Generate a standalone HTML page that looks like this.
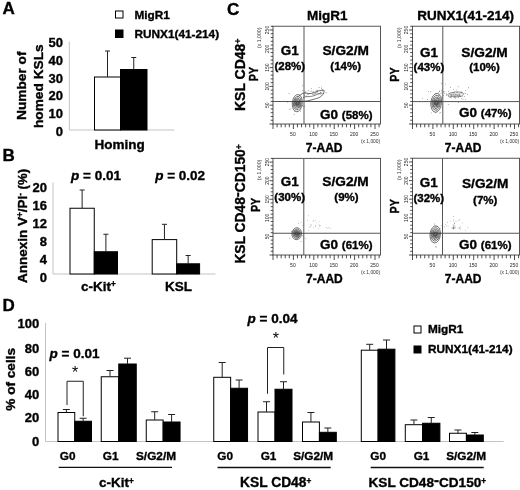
<!DOCTYPE html>
<html><head><meta charset="utf-8"><title>Figure</title>
<style>
html,body{margin:0;padding:0;background:#fff;}
svg{display:block;filter:blur(0.4px);font-family:"Liberation Sans",sans-serif;font-weight:bold;fill:#000;}
text{stroke:#000;stroke-width:0.35px;}
text.t{stroke:none;}
</style></head><body>
<svg width="520" height="490" viewBox="0 0 520 490">
<rect x="0" y="0" width="520" height="490" fill="#fff"/>
<text x="2.5" y="14.3" font-size="17" text-anchor="start">A</text>
<rect x="115.5" y="11" width="7.5" height="7" fill="#fff" stroke="#000" stroke-width="1"/>
<rect x="115.5" y="30" width="7.5" height="7.5" fill="#000" stroke="#000" stroke-width="1"/>
<text x="134.5" y="18.75" font-size="11.8" text-anchor="start">MigR1</text>
<text x="134.5" y="38" font-size="11.8" text-anchor="start">RUNX1(41-214)</text>
<path d="M69.3 41.5V130H174.5" stroke="#c4c4c4" stroke-width="1" fill="none"/>
<text x="63" y="47.3" font-size="13" text-anchor="end">50</text>
<text x="63" y="65.0" font-size="13" text-anchor="end">40</text>
<text x="63" y="82.69999999999999" font-size="13" text-anchor="end">30</text>
<text x="63" y="100.39999999999999" font-size="13" text-anchor="end">20</text>
<text x="63" y="118.1" font-size="13" text-anchor="end">10</text>
<text x="63" y="135.8" font-size="13" text-anchor="end">0</text>
<rect x="94.5" y="77" width="26.0" height="53" fill="#fff" stroke="#000" stroke-width="1"/>
<path d="M107.5 77V51M105.0 51H110.0" stroke="#222" stroke-width="1" fill="none"/>
<rect x="120.5" y="69.5" width="26.5" height="60.5" fill="#000" stroke="#000" stroke-width="1"/>
<path d="M133.75 69.5V57.5M131.25 57.5H136.25" stroke="#222" stroke-width="1" fill="none"/>
<text x="26.3" y="85.7" font-size="13.7" text-anchor="middle" transform="rotate(-90 26.3 85.7)">Number of</text>
<text x="43" y="86.2" font-size="13.7" text-anchor="middle" transform="rotate(-90 43 86.2)">homed KSLs</text>
<text x="119.7" y="149" font-size="13.5" text-anchor="middle">Homing</text>
<text x="2.5" y="161.3" font-size="17" text-anchor="start">B</text>
<path d="M53 182.5V274H215.5" stroke="#c4c4c4" stroke-width="1" fill="none"/>
<text x="47" y="191.7" font-size="13" text-anchor="end">20</text>
<text x="47" y="209.7" font-size="13" text-anchor="end">16</text>
<text x="47" y="227.7" font-size="13" text-anchor="end">12</text>
<text x="47" y="245.7" font-size="13" text-anchor="end">8</text>
<text x="47" y="263.7" font-size="13" text-anchor="end">4</text>
<text x="47" y="281.7" font-size="13" text-anchor="end">0</text>
<rect x="70" y="208.25" width="24.25" height="65.75" fill="#fff" stroke="#000" stroke-width="1"/>
<path d="M82.125 208.25V190M79.625 190H84.625" stroke="#222" stroke-width="1" fill="none"/>
<rect x="94.25" y="251.75" width="23.25" height="22.25" fill="#000" stroke="#000" stroke-width="1"/>
<path d="M105.875 251.75V234.25M103.375 234.25H108.375" stroke="#222" stroke-width="1" fill="none"/>
<rect x="152.2" y="239.6" width="24.5" height="34.400000000000006" fill="#fff" stroke="#000" stroke-width="1"/>
<path d="M164.45 239.6V224.3M161.95 224.3H166.95" stroke="#222" stroke-width="1" fill="none"/>
<rect x="176.7" y="263.8" width="22.900000000000006" height="10.199999999999989" fill="#000" stroke="#000" stroke-width="1"/>
<path d="M188.14999999999998 263.8V255.5M185.64999999999998 255.5H190.64999999999998" stroke="#222" stroke-width="1" fill="none"/>
<text x="71" y="180" font-size="13.5" text-anchor="start"><tspan font-style="italic">p</tspan> = 0.01</text>
<text x="155.2" y="180" font-size="13.5" text-anchor="start"><tspan font-style="italic">p</tspan> = 0.02</text>
<text x="81" y="290.5" font-size="13.5" text-anchor="start">c-Kit<tspan dy="-3.2" font-size="8.2">+</tspan><tspan dy="3.2" font-size="1">&#8203;</tspan></text>
<text x="165" y="291.3" font-size="13.5" text-anchor="start">KSL</text>
<text x="26.5" y="283" font-size="13.5" text-anchor="start" transform="rotate(-90 26.5 283)">Annexin V<tspan dy="-3.2" font-size="8.2">+</tspan><tspan dy="3.2" font-size="1">&#8203;</tspan>/PI<tspan dy="-3.2" font-size="8.2">-</tspan><tspan dy="3.2" font-size="1">&#8203;</tspan><tspan dx="3.5" font-size="13.2">(%)</tspan></text>
<text x="227" y="14.5" font-size="17" text-anchor="start">C</text>
<text x="327.3" y="19.7" font-size="13.5" text-anchor="middle">MigR1</text>
<text x="465.7" y="19.7" font-size="13.5" text-anchor="middle">RUNX1(41-214)</text>
<rect x="273" y="26.25" width="107.5" height="97.75" fill="#fff" stroke="#555" stroke-width="1"/>
<path d="M304 26.25V124.0M273 101.5H380.5" stroke="#555" stroke-width="1" fill="none"/>
<path d="M273.00 124.0v5M277.08 124.0v3.3M281.16 124.0v3.3M285.24 124.0v3.3M289.32 124.0v3.3M293.40 124.0v5M297.48 124.0v3.3M301.56 124.0v3.3M305.64 124.0v3.3M309.72 124.0v3.3M313.80 124.0v5M317.88 124.0v3.3M321.96 124.0v3.3M326.04 124.0v3.3M330.12 124.0v3.3M334.20 124.0v5M338.28 124.0v3.3M342.36 124.0v3.3M346.44 124.0v3.3M350.52 124.0v3.3M354.60 124.0v5M358.68 124.0v3.3M362.76 124.0v3.3M366.84 124.0v3.3M370.92 124.0v3.3M375.00 124.0v5M379.08 124.0v3.3M273 124.00h-3.5M273 120.24h-2.3M273 116.48h-2.3M273 112.72h-2.3M273 108.96h-2.3M273 105.20h-3.5M273 101.44h-2.3M273 97.68h-2.3M273 93.92h-2.3M273 90.16h-2.3M273 86.40h-3.5M273 82.64h-2.3M273 78.88h-2.3M273 75.12h-2.3M273 71.37h-2.3M273 67.61h-3.5M273 63.85h-2.3M273 60.09h-2.3M273 56.33h-2.3M273 52.57h-2.3M273 48.81h-3.5M273 45.05h-2.3M273 41.29h-2.3M273 37.53h-2.3M273 33.77h-2.3M273 30.01h-3.5M273 26.25h-2.3" stroke="#222" stroke-width="0.8" fill="none"/>
<text x="292.9" y="136.0" font-size="5" text-anchor="middle" class="t" font-weight="normal" fill="#222">50</text>
<text x="268.8" y="105.2" font-size="5" text-anchor="middle" transform="rotate(-90 268.8 105.2)" class="t" font-weight="normal" fill="#222">50</text>
<text x="313.3" y="136.0" font-size="5" text-anchor="middle" class="t" font-weight="normal" fill="#222">100</text>
<text x="268.8" y="86.4" font-size="5" text-anchor="middle" transform="rotate(-90 268.8 86.4)" class="t" font-weight="normal" fill="#222">100</text>
<text x="333.7" y="136.0" font-size="5" text-anchor="middle" class="t" font-weight="normal" fill="#222">150</text>
<text x="268.8" y="67.61" font-size="5" text-anchor="middle" transform="rotate(-90 268.8 67.61)" class="t" font-weight="normal" fill="#222">150</text>
<text x="354.1" y="136.0" font-size="5" text-anchor="middle" class="t" font-weight="normal" fill="#222">200</text>
<text x="268.8" y="48.81" font-size="5" text-anchor="middle" transform="rotate(-90 268.8 48.81)" class="t" font-weight="normal" fill="#222">200</text>
<text x="374.5" y="136.0" font-size="5" text-anchor="middle" class="t" font-weight="normal" fill="#222">250</text>
<text x="268.8" y="30.01" font-size="5" text-anchor="middle" transform="rotate(-90 268.8 30.01)" class="t" font-weight="normal" fill="#222">250</text>
<text x="380.2" y="143.0" font-size="4.9" text-anchor="end" class="t" font-weight="normal" fill="#333">(x 1,000)</text>
<text x="261.3" y="37.75" font-size="5.2" text-anchor="middle" transform="rotate(-90 261.3 37.75)" class="t" font-weight="normal" fill="#333">(x 1,000)</text>
<text x="289.8" y="55.05" font-size="13.5" text-anchor="middle">G1</text>
<text x="289.8" y="69.55" font-size="11.5" text-anchor="middle">(28%)</text>
<text x="345.7" y="55.05" font-size="13.7" text-anchor="middle">S/G2/M</text>
<text x="345.7" y="69.55" font-size="11.5" text-anchor="middle">(14%)</text>
<text x="372.5" y="118.5" font-size="13.5" text-anchor="end">G0 <tspan font-size="11.5">(58%)</tspan></text>
<g transform="rotate(6 297.3 103.1)" fill="none" stroke="#222" stroke-width="0.6">
<ellipse cx="297.3" cy="103.1" rx="5.00" ry="8.60"/>
<ellipse cx="297.3" cy="103.1" rx="3.90" ry="6.71"/>
<ellipse cx="297.3" cy="103.1" rx="3.00" ry="5.16"/>
<ellipse cx="297.3" cy="103.1" rx="2.25" ry="3.87"/>
<ellipse cx="297.3" cy="103.1" rx="1.60" ry="2.75"/>
<ellipse cx="297.3" cy="103.1" rx="1.00" ry="1.72"/>
<ellipse cx="297.3" cy="103.1" rx="1.50" ry="2.58" fill="#444" stroke="none" opacity="0.7"/>
</g>
<g fill="#555"><circle cx="296.2" cy="107.1" r="0.45"/><circle cx="296.4" cy="102.1" r="0.45"/><circle cx="292.8" cy="102.7" r="0.45"/><circle cx="303.1" cy="106.5" r="0.45"/><circle cx="302.7" cy="105.5" r="0.45"/><circle cx="299.5" cy="105.1" r="0.45"/><circle cx="289.2" cy="109.1" r="0.45"/><circle cx="300.0" cy="107.0" r="0.45"/><circle cx="289.0" cy="93.5" r="0.45"/><circle cx="293.1" cy="101.2" r="0.45"/><circle cx="299.0" cy="103.7" r="0.45"/><circle cx="300.1" cy="100.1" r="0.45"/><circle cx="299.0" cy="106.4" r="0.45"/><circle cx="294.2" cy="114.3" r="0.45"/><circle cx="300.3" cy="111.2" r="0.45"/><circle cx="294.4" cy="99.6" r="0.45"/><circle cx="295.8" cy="103.4" r="0.45"/><circle cx="300.7" cy="105.5" r="0.45"/><circle cx="295.3" cy="98.3" r="0.45"/><circle cx="294.9" cy="111.3" r="0.45"/><circle cx="293.5" cy="105.5" r="0.45"/><circle cx="299.6" cy="95.1" r="0.45"/><circle cx="297.7" cy="111.8" r="0.45"/><circle cx="287.4" cy="102.1" r="0.45"/><circle cx="297.0" cy="99.1" r="0.45"/><circle cx="300.0" cy="103.6" r="0.45"/><circle cx="290.2" cy="109.0" r="0.45"/><circle cx="300.8" cy="109.7" r="0.45"/><circle cx="304.7" cy="106.2" r="0.45"/><circle cx="298.1" cy="96.2" r="0.45"/></g>
<g fill="#555"><circle cx="317.7" cy="90.5" r="0.45"/><circle cx="311.3" cy="88.8" r="0.45"/><circle cx="308.2" cy="90.7" r="0.45"/><circle cx="321.7" cy="86.9" r="0.45"/><circle cx="305.3" cy="92.6" r="0.45"/><circle cx="322.7" cy="93.4" r="0.45"/><circle cx="302.6" cy="85.7" r="0.45"/><circle cx="316.1" cy="90.2" r="0.45"/><circle cx="307.3" cy="94.4" r="0.45"/><circle cx="320.6" cy="92.4" r="0.45"/><circle cx="315.5" cy="93.1" r="0.45"/><circle cx="323.6" cy="93.5" r="0.45"/><circle cx="317.1" cy="93.4" r="0.45"/><circle cx="304.6" cy="95.2" r="0.45"/><circle cx="319.7" cy="93.3" r="0.45"/><circle cx="302.2" cy="90.4" r="0.45"/><circle cx="319.1" cy="87.5" r="0.45"/><circle cx="312.9" cy="94.5" r="0.45"/><circle cx="306.1" cy="96.0" r="0.45"/><circle cx="317.3" cy="91.6" r="0.45"/><circle cx="315.9" cy="93.6" r="0.45"/><circle cx="314.7" cy="94.9" r="0.45"/><circle cx="310.0" cy="91.0" r="0.45"/><circle cx="320.3" cy="92.1" r="0.45"/><circle cx="308.7" cy="94.4" r="0.45"/><circle cx="322.8" cy="90.9" r="0.45"/><circle cx="305.7" cy="91.7" r="0.45"/><circle cx="313.1" cy="91.3" r="0.45"/><circle cx="322.4" cy="89.4" r="0.45"/><circle cx="321.6" cy="88.8" r="0.45"/><circle cx="309.3" cy="93.6" r="0.45"/><circle cx="320.8" cy="94.1" r="0.45"/><circle cx="316.1" cy="92.4" r="0.45"/><circle cx="314.9" cy="93.4" r="0.45"/><circle cx="312.9" cy="92.7" r="0.45"/><circle cx="317.4" cy="92.0" r="0.45"/><circle cx="318.6" cy="93.4" r="0.45"/><circle cx="326.1" cy="92.8" r="0.45"/><circle cx="311.4" cy="91.1" r="0.45"/><circle cx="313.9" cy="94.3" r="0.45"/></g>
<path d="M299.500 96C301 93.500 304 92.500 307 93.200S312 93.500 315 92.200S321 90 324 90.300C324.500 92 323.500 94 321.500 96S316 98.500 313 99.500S306 101.200 303 101.500" fill="none" stroke="#333" stroke-width="0.7"/>
<path d="M303 97.500C306 96 310 97 313 96S318 94 322 93" fill="none" stroke="#333" stroke-width="0.6"/>
<rect x="412.5" y="26.25" width="107" height="97.75" fill="#fff" stroke="#555" stroke-width="1"/>
<path d="M442.8 26.25V124.0M412.5 101.6H519.5" stroke="#555" stroke-width="1" fill="none"/>
<path d="M412.50 124.0v5M416.58 124.0v3.3M420.66 124.0v3.3M424.74 124.0v3.3M428.82 124.0v3.3M432.90 124.0v5M436.98 124.0v3.3M441.06 124.0v3.3M445.14 124.0v3.3M449.22 124.0v3.3M453.30 124.0v5M457.38 124.0v3.3M461.46 124.0v3.3M465.54 124.0v3.3M469.62 124.0v3.3M473.70 124.0v5M477.78 124.0v3.3M481.86 124.0v3.3M485.94 124.0v3.3M490.02 124.0v3.3M494.10 124.0v5M498.18 124.0v3.3M502.26 124.0v3.3M506.34 124.0v3.3M510.42 124.0v3.3M514.50 124.0v5M518.58 124.0v3.3M412.5 124.00h-3.5M412.5 120.24h-2.3M412.5 116.48h-2.3M412.5 112.72h-2.3M412.5 108.96h-2.3M412.5 105.20h-3.5M412.5 101.44h-2.3M412.5 97.68h-2.3M412.5 93.92h-2.3M412.5 90.16h-2.3M412.5 86.40h-3.5M412.5 82.64h-2.3M412.5 78.88h-2.3M412.5 75.12h-2.3M412.5 71.37h-2.3M412.5 67.61h-3.5M412.5 63.85h-2.3M412.5 60.09h-2.3M412.5 56.33h-2.3M412.5 52.57h-2.3M412.5 48.81h-3.5M412.5 45.05h-2.3M412.5 41.29h-2.3M412.5 37.53h-2.3M412.5 33.77h-2.3M412.5 30.01h-3.5M412.5 26.25h-2.3" stroke="#222" stroke-width="0.8" fill="none"/>
<text x="432.4" y="136.0" font-size="5" text-anchor="middle" class="t" font-weight="normal" fill="#222">50</text>
<text x="408.3" y="105.2" font-size="5" text-anchor="middle" transform="rotate(-90 408.3 105.2)" class="t" font-weight="normal" fill="#222">50</text>
<text x="452.8" y="136.0" font-size="5" text-anchor="middle" class="t" font-weight="normal" fill="#222">100</text>
<text x="408.3" y="86.4" font-size="5" text-anchor="middle" transform="rotate(-90 408.3 86.4)" class="t" font-weight="normal" fill="#222">100</text>
<text x="473.2" y="136.0" font-size="5" text-anchor="middle" class="t" font-weight="normal" fill="#222">150</text>
<text x="408.3" y="67.61" font-size="5" text-anchor="middle" transform="rotate(-90 408.3 67.61)" class="t" font-weight="normal" fill="#222">150</text>
<text x="493.6" y="136.0" font-size="5" text-anchor="middle" class="t" font-weight="normal" fill="#222">200</text>
<text x="408.3" y="48.81" font-size="5" text-anchor="middle" transform="rotate(-90 408.3 48.81)" class="t" font-weight="normal" fill="#222">200</text>
<text x="514.0" y="136.0" font-size="5" text-anchor="middle" class="t" font-weight="normal" fill="#222">250</text>
<text x="408.3" y="30.01" font-size="5" text-anchor="middle" transform="rotate(-90 408.3 30.01)" class="t" font-weight="normal" fill="#222">250</text>
<text x="519.2" y="143.0" font-size="4.9" text-anchor="end" class="t" font-weight="normal" fill="#333">(x 1,000)</text>
<text x="400.8" y="37.75" font-size="5.2" text-anchor="middle" transform="rotate(-90 400.8 37.75)" class="t" font-weight="normal" fill="#333">(x 1,000)</text>
<text x="428.95" y="56.65" font-size="13.5" text-anchor="middle">G1</text>
<text x="428.95" y="71.35" font-size="11.5" text-anchor="middle">(43%)</text>
<text x="484.5" y="56.849999999999994" font-size="13.7" text-anchor="middle">S/G2/M</text>
<text x="484.5" y="71.35" font-size="11.5" text-anchor="middle">(10%)</text>
<text x="511.5" y="117.3" font-size="13.5" text-anchor="end">G0 <tspan font-size="11.5">(47%)</tspan></text>
<g transform="rotate(6 436.2 102.8)" fill="none" stroke="#222" stroke-width="0.6">
<ellipse cx="436.2" cy="102.8" rx="5.30" ry="9.50"/>
<ellipse cx="436.2" cy="102.8" rx="4.13" ry="7.41"/>
<ellipse cx="436.2" cy="102.8" rx="3.18" ry="5.70"/>
<ellipse cx="436.2" cy="102.8" rx="2.38" ry="4.28"/>
<ellipse cx="436.2" cy="102.8" rx="1.70" ry="3.04"/>
<ellipse cx="436.2" cy="102.8" rx="1.06" ry="1.90"/>
<ellipse cx="436.2" cy="102.8" rx="1.59" ry="2.85" fill="#444" stroke="none" opacity="0.7"/>
</g>
<g fill="#555"><circle cx="434.3" cy="104.7" r="0.45"/><circle cx="445.2" cy="84.0" r="0.45"/><circle cx="430.4" cy="103.7" r="0.45"/><circle cx="438.0" cy="103.7" r="0.45"/><circle cx="433.8" cy="106.6" r="0.45"/><circle cx="437.4" cy="98.3" r="0.45"/><circle cx="448.2" cy="104.5" r="0.45"/><circle cx="433.2" cy="101.3" r="0.45"/><circle cx="434.9" cy="101.6" r="0.45"/><circle cx="422.4" cy="98.6" r="0.45"/><circle cx="441.0" cy="93.8" r="0.45"/><circle cx="435.7" cy="108.7" r="0.45"/><circle cx="440.3" cy="112.4" r="0.45"/><circle cx="427.5" cy="99.5" r="0.45"/><circle cx="434.3" cy="106.4" r="0.45"/><circle cx="441.5" cy="83.2" r="0.45"/><circle cx="441.4" cy="91.9" r="0.45"/><circle cx="439.4" cy="91.6" r="0.45"/><circle cx="436.9" cy="110.4" r="0.45"/><circle cx="435.3" cy="103.3" r="0.45"/><circle cx="440.0" cy="103.0" r="0.45"/><circle cx="435.6" cy="112.7" r="0.45"/><circle cx="441.2" cy="99.9" r="0.45"/><circle cx="449.7" cy="94.0" r="0.45"/><circle cx="440.6" cy="100.1" r="0.45"/><circle cx="436.7" cy="106.9" r="0.45"/><circle cx="437.1" cy="106.5" r="0.45"/><circle cx="428.4" cy="91.4" r="0.45"/><circle cx="439.1" cy="95.3" r="0.45"/><circle cx="430.9" cy="91.7" r="0.45"/><circle cx="442.3" cy="107.2" r="0.45"/><circle cx="443.4" cy="95.4" r="0.45"/><circle cx="436.0" cy="94.0" r="0.45"/><circle cx="439.8" cy="113.1" r="0.45"/><circle cx="431.5" cy="112.9" r="0.45"/></g>
<g fill="#555"><circle cx="461.9" cy="93.4" r="0.45"/><circle cx="441.2" cy="98.9" r="0.45"/><circle cx="454.3" cy="91.9" r="0.45"/><circle cx="457.8" cy="95.4" r="0.45"/><circle cx="465.5" cy="90.4" r="0.45"/><circle cx="463.0" cy="99.2" r="0.45"/><circle cx="465.2" cy="93.4" r="0.45"/><circle cx="449.8" cy="97.6" r="0.45"/><circle cx="455.8" cy="94.4" r="0.45"/><circle cx="465.0" cy="93.1" r="0.45"/><circle cx="438.9" cy="92.6" r="0.45"/><circle cx="442.0" cy="96.9" r="0.45"/><circle cx="457.2" cy="91.9" r="0.45"/><circle cx="454.9" cy="96.9" r="0.45"/><circle cx="455.6" cy="98.6" r="0.45"/><circle cx="454.6" cy="97.6" r="0.45"/><circle cx="465.4" cy="99.6" r="0.45"/><circle cx="450.3" cy="97.1" r="0.45"/><circle cx="441.9" cy="90.2" r="0.45"/><circle cx="441.3" cy="97.7" r="0.45"/><circle cx="446.4" cy="94.0" r="0.45"/><circle cx="453.7" cy="93.9" r="0.45"/><circle cx="450.9" cy="94.8" r="0.45"/><circle cx="467.5" cy="94.2" r="0.45"/><circle cx="458.7" cy="97.5" r="0.45"/><circle cx="453.6" cy="89.6" r="0.45"/><circle cx="451.1" cy="97.8" r="0.45"/><circle cx="443.5" cy="91.9" r="0.45"/><circle cx="462.1" cy="96.8" r="0.45"/><circle cx="455.1" cy="96.8" r="0.45"/><circle cx="456.2" cy="89.9" r="0.45"/><circle cx="444.1" cy="91.8" r="0.45"/><circle cx="461.5" cy="92.0" r="0.45"/><circle cx="448.7" cy="91.3" r="0.45"/><circle cx="444.3" cy="93.6" r="0.45"/><circle cx="446.7" cy="95.3" r="0.45"/><circle cx="438.5" cy="95.1" r="0.45"/><circle cx="450.5" cy="87.2" r="0.45"/><circle cx="460.1" cy="93.0" r="0.45"/><circle cx="439.4" cy="90.9" r="0.45"/><circle cx="457.0" cy="92.4" r="0.45"/><circle cx="460.5" cy="96.6" r="0.45"/><circle cx="459.7" cy="95.1" r="0.45"/><circle cx="464.3" cy="96.3" r="0.45"/><circle cx="458.2" cy="86.7" r="0.45"/><circle cx="461.3" cy="98.6" r="0.45"/><circle cx="452.9" cy="92.4" r="0.45"/><circle cx="468.6" cy="87.8" r="0.45"/><circle cx="458.3" cy="102.5" r="0.45"/><circle cx="448.5" cy="96.4" r="0.45"/></g>
<path d="M449 93.500c3-1.500 10-2 13-1s1 3.500-2 4-9 .5-11-.5-1-2 0-2.500z" fill="none" stroke="#444" stroke-width="0.6"/>
<path d="M451 94.200h9v1.600h-9z" fill="none" stroke="#444" stroke-width="0.5"/>
<rect x="273" y="158.4" width="107.5" height="96.6" fill="#fff" stroke="#555" stroke-width="1"/>
<path d="M303.8 158.4V255.0M273 233.25H380.5" stroke="#555" stroke-width="1" fill="none"/>
<path d="M273.00 255.0v5M277.08 255.0v3.3M281.16 255.0v3.3M285.24 255.0v3.3M289.32 255.0v3.3M293.40 255.0v5M297.48 255.0v3.3M301.56 255.0v3.3M305.64 255.0v3.3M309.72 255.0v3.3M313.80 255.0v5M317.88 255.0v3.3M321.96 255.0v3.3M326.04 255.0v3.3M330.12 255.0v3.3M334.20 255.0v5M338.28 255.0v3.3M342.36 255.0v3.3M346.44 255.0v3.3M350.52 255.0v3.3M354.60 255.0v5M358.68 255.0v3.3M362.76 255.0v3.3M366.84 255.0v3.3M370.92 255.0v3.3M375.00 255.0v5M379.08 255.0v3.3M273 255.00h-3.5M273 251.28h-2.3M273 247.57h-2.3M273 243.85h-2.3M273 240.14h-2.3M273 236.42h-3.5M273 232.71h-2.3M273 228.99h-2.3M273 225.28h-2.3M273 221.56h-2.3M273 217.85h-3.5M273 214.13h-2.3M273 210.42h-2.3M273 206.70h-2.3M273 202.98h-2.3M273 199.27h-3.5M273 195.55h-2.3M273 191.84h-2.3M273 188.12h-2.3M273 184.41h-2.3M273 180.69h-3.5M273 176.98h-2.3M273 173.26h-2.3M273 169.55h-2.3M273 165.83h-2.3M273 162.12h-3.5M273 158.40h-2.3" stroke="#222" stroke-width="0.8" fill="none"/>
<text x="292.9" y="267.0" font-size="5" text-anchor="middle" class="t" font-weight="normal" fill="#222">50</text>
<text x="268.8" y="236.42" font-size="5" text-anchor="middle" transform="rotate(-90 268.8 236.42)" class="t" font-weight="normal" fill="#222">50</text>
<text x="313.3" y="267.0" font-size="5" text-anchor="middle" class="t" font-weight="normal" fill="#222">100</text>
<text x="268.8" y="217.85" font-size="5" text-anchor="middle" transform="rotate(-90 268.8 217.85)" class="t" font-weight="normal" fill="#222">100</text>
<text x="333.7" y="267.0" font-size="5" text-anchor="middle" class="t" font-weight="normal" fill="#222">150</text>
<text x="268.8" y="199.27" font-size="5" text-anchor="middle" transform="rotate(-90 268.8 199.27)" class="t" font-weight="normal" fill="#222">150</text>
<text x="354.1" y="267.0" font-size="5" text-anchor="middle" class="t" font-weight="normal" fill="#222">200</text>
<text x="268.8" y="180.69" font-size="5" text-anchor="middle" transform="rotate(-90 268.8 180.69)" class="t" font-weight="normal" fill="#222">200</text>
<text x="374.5" y="267.0" font-size="5" text-anchor="middle" class="t" font-weight="normal" fill="#222">250</text>
<text x="268.8" y="162.12" font-size="5" text-anchor="middle" transform="rotate(-90 268.8 162.12)" class="t" font-weight="normal" fill="#222">250</text>
<text x="380.2" y="274.0" font-size="4.9" text-anchor="end" class="t" font-weight="normal" fill="#333">(x 1,000)</text>
<text x="261.3" y="169.9" font-size="5.2" text-anchor="middle" transform="rotate(-90 261.3 169.9)" class="t" font-weight="normal" fill="#333">(x 1,000)</text>
<text x="289.7" y="185.50000000000003" font-size="13.5" text-anchor="middle">G1</text>
<text x="289.7" y="200.7" font-size="11.5" text-anchor="middle">(30%)</text>
<text x="345.5" y="185.70000000000002" font-size="13.7" text-anchor="middle">S/G2/M</text>
<text x="346.5" y="200.7" font-size="11.5" text-anchor="middle">(9%)</text>
<text x="372.5" y="248.8" font-size="13.5" text-anchor="end">G0 <tspan font-size="11.5">(61%)</tspan></text>
<g transform="rotate(6 296.7 233.7)" fill="none" stroke="#222" stroke-width="0.6">
<ellipse cx="296.7" cy="233.7" rx="4.80" ry="6.00"/>
<ellipse cx="296.7" cy="233.7" rx="3.74" ry="4.68"/>
<ellipse cx="296.7" cy="233.7" rx="2.88" ry="3.60"/>
<ellipse cx="296.7" cy="233.7" rx="2.16" ry="2.70"/>
<ellipse cx="296.7" cy="233.7" rx="1.54" ry="1.92"/>
<ellipse cx="296.7" cy="233.7" rx="0.96" ry="1.20"/>
<ellipse cx="296.7" cy="233.7" rx="1.44" ry="1.80" fill="#444" stroke="none" opacity="0.7"/>
</g>
<g fill="#555"><circle cx="303.1" cy="233.5" r="0.45"/><circle cx="298.5" cy="237.6" r="0.45"/><circle cx="293.3" cy="233.6" r="0.45"/><circle cx="297.5" cy="237.3" r="0.45"/><circle cx="296.4" cy="233.2" r="0.45"/><circle cx="292.9" cy="232.6" r="0.45"/><circle cx="299.6" cy="234.4" r="0.45"/><circle cx="293.5" cy="230.6" r="0.45"/><circle cx="305.8" cy="238.6" r="0.45"/><circle cx="298.7" cy="223.6" r="0.45"/><circle cx="298.7" cy="235.9" r="0.45"/><circle cx="302.4" cy="235.7" r="0.45"/><circle cx="296.3" cy="236.1" r="0.45"/><circle cx="289.7" cy="238.1" r="0.45"/><circle cx="297.6" cy="231.2" r="0.45"/><circle cx="301.1" cy="241.2" r="0.45"/><circle cx="291.6" cy="231.3" r="0.45"/><circle cx="297.5" cy="234.7" r="0.45"/></g>
<g fill="#999"><circle cx="313.2" cy="221.6" r="0.45"/><circle cx="330.8" cy="228.6" r="0.45"/><circle cx="307.6" cy="220.3" r="0.45"/><circle cx="327.9" cy="228.5" r="0.45"/><circle cx="328.7" cy="227.8" r="0.45"/><circle cx="309.9" cy="225.9" r="0.45"/><circle cx="300.9" cy="222.4" r="0.45"/><circle cx="315.6" cy="226.8" r="0.45"/><circle cx="310.9" cy="224.6" r="0.45"/><circle cx="319.2" cy="226.3" r="0.45"/><circle cx="320.5" cy="225.7" r="0.45"/><circle cx="313.7" cy="227.8" r="0.45"/><circle cx="316.3" cy="222.1" r="0.45"/><circle cx="311.6" cy="225.0" r="0.45"/><circle cx="315.2" cy="225.5" r="0.45"/><circle cx="316.0" cy="225.6" r="0.45"/><circle cx="315.1" cy="220.6" r="0.45"/><circle cx="318.9" cy="228.7" r="0.45"/><circle cx="319.0" cy="224.3" r="0.45"/><circle cx="319.1" cy="221.6" r="0.45"/><circle cx="302.7" cy="225.2" r="0.45"/><circle cx="309.5" cy="227.6" r="0.45"/><circle cx="308.4" cy="215.8" r="0.45"/><circle cx="308.7" cy="230.5" r="0.45"/><circle cx="313.3" cy="220.2" r="0.45"/><circle cx="310.7" cy="226.8" r="0.45"/><circle cx="319.5" cy="225.6" r="0.45"/><circle cx="326.4" cy="227.5" r="0.45"/></g>
<rect x="412.5" y="158.25" width="107" height="96.75" fill="#fff" stroke="#555" stroke-width="1"/>
<path d="M442.5 158.25V255.0M412.5 233.25H519.5" stroke="#555" stroke-width="1" fill="none"/>
<path d="M412.50 255.0v5M416.58 255.0v3.3M420.66 255.0v3.3M424.74 255.0v3.3M428.82 255.0v3.3M432.90 255.0v5M436.98 255.0v3.3M441.06 255.0v3.3M445.14 255.0v3.3M449.22 255.0v3.3M453.30 255.0v5M457.38 255.0v3.3M461.46 255.0v3.3M465.54 255.0v3.3M469.62 255.0v3.3M473.70 255.0v5M477.78 255.0v3.3M481.86 255.0v3.3M485.94 255.0v3.3M490.02 255.0v3.3M494.10 255.0v5M498.18 255.0v3.3M502.26 255.0v3.3M506.34 255.0v3.3M510.42 255.0v3.3M514.50 255.0v5M518.58 255.0v3.3M412.5 255.00h-3.5M412.5 251.28h-2.3M412.5 247.56h-2.3M412.5 243.84h-2.3M412.5 240.12h-2.3M412.5 236.39h-3.5M412.5 232.67h-2.3M412.5 228.95h-2.3M412.5 225.23h-2.3M412.5 221.51h-2.3M412.5 217.79h-3.5M412.5 214.07h-2.3M412.5 210.35h-2.3M412.5 206.63h-2.3M412.5 202.90h-2.3M412.5 199.18h-3.5M412.5 195.46h-2.3M412.5 191.74h-2.3M412.5 188.02h-2.3M412.5 184.30h-2.3M412.5 180.58h-3.5M412.5 176.86h-2.3M412.5 173.13h-2.3M412.5 169.41h-2.3M412.5 165.69h-2.3M412.5 161.97h-3.5M412.5 158.25h-2.3" stroke="#222" stroke-width="0.8" fill="none"/>
<text x="432.4" y="267.0" font-size="5" text-anchor="middle" class="t" font-weight="normal" fill="#222">50</text>
<text x="408.3" y="236.39" font-size="5" text-anchor="middle" transform="rotate(-90 408.3 236.39)" class="t" font-weight="normal" fill="#222">50</text>
<text x="452.8" y="267.0" font-size="5" text-anchor="middle" class="t" font-weight="normal" fill="#222">100</text>
<text x="408.3" y="217.79" font-size="5" text-anchor="middle" transform="rotate(-90 408.3 217.79)" class="t" font-weight="normal" fill="#222">100</text>
<text x="473.2" y="267.0" font-size="5" text-anchor="middle" class="t" font-weight="normal" fill="#222">150</text>
<text x="408.3" y="199.18" font-size="5" text-anchor="middle" transform="rotate(-90 408.3 199.18)" class="t" font-weight="normal" fill="#222">150</text>
<text x="493.6" y="267.0" font-size="5" text-anchor="middle" class="t" font-weight="normal" fill="#222">200</text>
<text x="408.3" y="180.58" font-size="5" text-anchor="middle" transform="rotate(-90 408.3 180.58)" class="t" font-weight="normal" fill="#222">200</text>
<text x="514.0" y="267.0" font-size="5" text-anchor="middle" class="t" font-weight="normal" fill="#222">250</text>
<text x="408.3" y="161.97" font-size="5" text-anchor="middle" transform="rotate(-90 408.3 161.97)" class="t" font-weight="normal" fill="#222">250</text>
<text x="519.2" y="274.0" font-size="4.9" text-anchor="end" class="t" font-weight="normal" fill="#333">(x 1,000)</text>
<text x="400.8" y="169.75" font-size="5.2" text-anchor="middle" transform="rotate(-90 400.8 169.75)" class="t" font-weight="normal" fill="#333">(x 1,000)</text>
<text x="428.8" y="187.05" font-size="13.5" text-anchor="middle">G1</text>
<text x="428.8" y="201.55" font-size="11.5" text-anchor="middle">(32%)</text>
<text x="485.2" y="188.45000000000002" font-size="13.7" text-anchor="middle">S/G2/M</text>
<text x="485.2" y="203.55" font-size="11.5" text-anchor="middle">(7%)</text>
<text x="511.5" y="248.5" font-size="13.5" text-anchor="end">G0 <tspan font-size="11.5">(61%)</tspan></text>
<g transform="rotate(6 435.2 234.4)" fill="none" stroke="#222" stroke-width="0.6">
<ellipse cx="435.2" cy="234.4" rx="5.20" ry="8.60"/>
<ellipse cx="435.2" cy="234.4" rx="4.06" ry="6.71"/>
<ellipse cx="435.2" cy="234.4" rx="3.12" ry="5.16"/>
<ellipse cx="435.2" cy="234.4" rx="2.34" ry="3.87"/>
<ellipse cx="435.2" cy="234.4" rx="1.66" ry="2.75"/>
<ellipse cx="435.2" cy="234.4" rx="1.04" ry="1.72"/>
<ellipse cx="435.2" cy="234.4" rx="1.56" ry="2.58" fill="#444" stroke="none" opacity="0.7"/>
</g>
<g fill="#555"><circle cx="435.9" cy="237.0" r="0.45"/><circle cx="442.6" cy="238.9" r="0.45"/><circle cx="440.1" cy="228.6" r="0.45"/><circle cx="435.4" cy="237.6" r="0.45"/><circle cx="434.8" cy="239.3" r="0.45"/><circle cx="438.4" cy="238.5" r="0.45"/><circle cx="435.2" cy="246.7" r="0.45"/><circle cx="441.0" cy="232.9" r="0.45"/><circle cx="436.4" cy="247.0" r="0.45"/><circle cx="434.6" cy="238.4" r="0.45"/><circle cx="439.9" cy="234.0" r="0.45"/><circle cx="431.3" cy="234.9" r="0.45"/><circle cx="437.4" cy="239.6" r="0.45"/><circle cx="439.1" cy="234.1" r="0.45"/><circle cx="439.4" cy="236.7" r="0.45"/><circle cx="436.8" cy="234.3" r="0.45"/><circle cx="435.0" cy="237.4" r="0.45"/><circle cx="431.8" cy="230.9" r="0.45"/><circle cx="436.0" cy="226.7" r="0.45"/><circle cx="434.3" cy="224.0" r="0.45"/><circle cx="433.3" cy="236.8" r="0.45"/><circle cx="438.3" cy="233.7" r="0.45"/></g>
<g fill="#888"><circle cx="453.4" cy="221.0" r="0.45"/><circle cx="467.8" cy="227.8" r="0.45"/><circle cx="462.7" cy="222.9" r="0.45"/><circle cx="453.7" cy="219.6" r="0.45"/><circle cx="460.5" cy="229.3" r="0.45"/><circle cx="441.7" cy="225.8" r="0.45"/><circle cx="459.4" cy="219.8" r="0.45"/><circle cx="442.2" cy="222.3" r="0.45"/><circle cx="450.6" cy="221.1" r="0.45"/><circle cx="455.2" cy="226.9" r="0.45"/><circle cx="459.4" cy="228.5" r="0.45"/><circle cx="465.5" cy="230.1" r="0.45"/><circle cx="445.8" cy="224.2" r="0.45"/><circle cx="447.6" cy="222.2" r="0.45"/><circle cx="454.4" cy="226.0" r="0.45"/><circle cx="458.4" cy="220.4" r="0.45"/><circle cx="446.3" cy="225.9" r="0.45"/><circle cx="453.6" cy="224.9" r="0.45"/><circle cx="454.6" cy="223.3" r="0.45"/><circle cx="459.9" cy="227.2" r="0.45"/><circle cx="454.4" cy="223.6" r="0.45"/><circle cx="453.8" cy="216.5" r="0.45"/><circle cx="448.1" cy="226.1" r="0.45"/><circle cx="444.5" cy="226.7" r="0.45"/><circle cx="456.0" cy="221.2" r="0.45"/><circle cx="453.2" cy="224.9" r="0.45"/><circle cx="458.2" cy="228.1" r="0.45"/><circle cx="454.7" cy="223.0" r="0.45"/><circle cx="454.0" cy="225.8" r="0.45"/><circle cx="460.1" cy="227.0" r="0.45"/></g>
<path d="M451.500 228h4M453.500 226.500v3" stroke="#555" stroke-width="0.6"/>
<text x="258.4" y="74" font-size="12.3" text-anchor="middle" transform="rotate(-90 258.4 74)" textLength="14.3" lengthAdjust="spacingAndGlyphs">PY</text>
<text x="399" y="74.5" font-size="12.3" text-anchor="middle" transform="rotate(-90 399 74.5)" textLength="14.3" lengthAdjust="spacingAndGlyphs">PY</text>
<text x="260" y="204.9" font-size="12.3" text-anchor="middle" transform="rotate(-90 260 204.9)" textLength="14.3" lengthAdjust="spacingAndGlyphs">PY</text>
<text x="399.3" y="206.3" font-size="12.3" text-anchor="middle" transform="rotate(-90 399.3 206.3)" textLength="14.3" lengthAdjust="spacingAndGlyphs">PY</text>
<text x="324.2" y="152" font-size="12" text-anchor="middle">7-AAD</text>
<text x="463.2" y="151.5" font-size="12" text-anchor="middle">7-AAD</text>
<text x="324.4" y="282.5" font-size="12" text-anchor="middle">7-AAD</text>
<text x="463.2" y="282.5" font-size="12" text-anchor="middle">7-AAD</text>
<text x="244.6" y="74.9" font-size="14" text-anchor="middle" transform="rotate(-90 244.6 74.9)">KSL CD48<tspan dy="-3.2" font-size="8.2">+</tspan><tspan dy="3.2" font-size="1">&#8203;</tspan></text>
<text x="244.8" y="204" font-size="13.8" text-anchor="middle" transform="rotate(-90 244.8 204)">KSL CD48<tspan dy="-2.6" font-size="15">-</tspan><tspan dy="2.6" font-size="1">&#8203;</tspan>CD150<tspan dy="-3.2" font-size="8.2">+</tspan><tspan dy="3.2" font-size="1">&#8203;</tspan></text>
<text x="2.5" y="311.3" font-size="17" text-anchor="start">D</text>
<path d="M45.5 323V441.5H503.7" stroke="#c4c4c4" stroke-width="1" fill="none"/>
<text x="39.2" y="327.8" font-size="13" text-anchor="end">100</text>
<text x="39.2" y="352.6" font-size="13" text-anchor="end">80</text>
<text x="39.2" y="375.90000000000003" font-size="13" text-anchor="end">60</text>
<text x="39.2" y="398.90000000000003" font-size="13" text-anchor="end">40</text>
<text x="39.2" y="422.1" font-size="13" text-anchor="end">20</text>
<text x="39.2" y="445.90000000000003" font-size="13" text-anchor="end">0</text>
<text x="15" y="379.3" font-size="13.6" text-anchor="middle" transform="rotate(-90 15 379.3)">% of cells</text>
<rect x="58" y="412.5" width="16.75" height="29.0" fill="#fff" stroke="#000" stroke-width="1"/>
<path d="M66.375 412.5V409.5M62.875 409.5H69.875" stroke="#222" stroke-width="1" fill="none"/>
<rect x="74.75" y="421.25" width="16.75" height="20.25" fill="#000" stroke="#000" stroke-width="1"/>
<path d="M83.125 421.25V418.25M79.625 418.25H86.625" stroke="#222" stroke-width="1" fill="none"/>
<rect x="101.25" y="376.75" width="17.5" height="64.75" fill="#fff" stroke="#000" stroke-width="1"/>
<path d="M110.0 376.75V370.5M106.5 370.5H113.5" stroke="#222" stroke-width="1" fill="none"/>
<rect x="118.75" y="364" width="17.5" height="77.5" fill="#000" stroke="#000" stroke-width="1"/>
<path d="M127.5 364V358.2M124.0 358.2H131.0" stroke="#222" stroke-width="1" fill="none"/>
<rect x="146.25" y="420" width="16.900000000000006" height="21.5" fill="#fff" stroke="#000" stroke-width="1"/>
<path d="M154.7 420V411.75M151.2 411.75H158.2" stroke="#222" stroke-width="1" fill="none"/>
<rect x="163.15" y="422" width="16.900000000000006" height="19.5" fill="#000" stroke="#000" stroke-width="1"/>
<path d="M171.60000000000002 422V414.5M168.10000000000002 414.5H175.10000000000002" stroke="#222" stroke-width="1" fill="none"/>
<rect x="213.75" y="377.3" width="16.900000000000006" height="64.19999999999999" fill="#fff" stroke="#000" stroke-width="1"/>
<path d="M222.2 377.3V362.5M218.7 362.5H225.7" stroke="#222" stroke-width="1" fill="none"/>
<rect x="230.65" y="388.25" width="16.900000000000006" height="53.25" fill="#000" stroke="#000" stroke-width="1"/>
<path d="M239.10000000000002 388.25V380M235.60000000000002 380H242.60000000000002" stroke="#222" stroke-width="1" fill="none"/>
<rect x="258" y="412" width="17" height="29.5" fill="#fff" stroke="#000" stroke-width="1"/>
<path d="M266.5 412V401.75M263.0 401.75H270.0" stroke="#222" stroke-width="1" fill="none"/>
<rect x="275" y="389.25" width="17" height="52.25" fill="#000" stroke="#000" stroke-width="1"/>
<path d="M283.5 389.25V381.75M280.0 381.75H287.0" stroke="#222" stroke-width="1" fill="none"/>
<rect x="302.5" y="422" width="16.899999999999977" height="19.5" fill="#fff" stroke="#000" stroke-width="1"/>
<path d="M310.95 422V412.5M307.45 412.5H314.45" stroke="#222" stroke-width="1" fill="none"/>
<rect x="319.4" y="432.3" width="16.900000000000034" height="9.199999999999989" fill="#000" stroke="#000" stroke-width="1"/>
<path d="M327.85 432.3V428M324.35 428H331.35" stroke="#222" stroke-width="1" fill="none"/>
<rect x="361.3" y="350.2" width="16.80000000000001" height="91.30000000000001" fill="#fff" stroke="#000" stroke-width="1"/>
<path d="M369.70000000000005 350.2V344.3M366.20000000000005 344.3H373.20000000000005" stroke="#222" stroke-width="1" fill="none"/>
<rect x="378.1" y="349.2" width="16.80000000000001" height="92.30000000000001" fill="#000" stroke="#000" stroke-width="1"/>
<path d="M386.5 349.2V340M383.0 340H390.0" stroke="#222" stroke-width="1" fill="none"/>
<rect x="405.3" y="424.7" width="17.30000000000001" height="16.80000000000001" fill="#fff" stroke="#000" stroke-width="1"/>
<path d="M413.95000000000005 424.7V420M410.45000000000005 420H417.45000000000005" stroke="#222" stroke-width="1" fill="none"/>
<rect x="422.6" y="423.25" width="17.30000000000001" height="18.25" fill="#000" stroke="#000" stroke-width="1"/>
<path d="M431.25 423.25V417.5M427.75 417.5H434.75" stroke="#222" stroke-width="1" fill="none"/>
<rect x="449.5" y="433.25" width="16.899999999999977" height="8.25" fill="#fff" stroke="#000" stroke-width="1"/>
<path d="M457.95 433.25V430M454.45 430H461.45" stroke="#222" stroke-width="1" fill="none"/>
<rect x="466.4" y="435" width="16.900000000000034" height="6.5" fill="#000" stroke="#000" stroke-width="1"/>
<path d="M474.85 435V432.5M471.35 432.5H478.35" stroke="#222" stroke-width="1" fill="none"/>
<path d="M67 405V381.25H83.25V416.25" stroke="#222" stroke-width="1" fill="none"/>
<path d="M267.5 393.75V347.500H283.75V374.5" stroke="#222" stroke-width="1" fill="none"/>
<text x="75" y="377.5" font-size="16" text-anchor="middle" class="t" font-weight="normal">*</text>
<text x="275.9" y="344" font-size="16" text-anchor="middle" class="t" font-weight="normal">*</text>
<text x="49.5" y="357.5" font-size="13.5" text-anchor="start"><tspan font-style="italic">p</tspan> = 0.01</text>
<text x="247.5" y="323.2" font-size="13.5" text-anchor="start"><tspan font-style="italic">p</tspan> = 0.04</text>
<text x="67.7" y="459.7" font-size="11.8" text-anchor="middle">G0</text>
<text x="110.7" y="459.7" font-size="11.8" text-anchor="middle">G1</text>
<text x="156" y="459.7" font-size="11.8" text-anchor="middle">S/G2/M</text>
<text x="225.2" y="459.7" font-size="11.8" text-anchor="middle">G0</text>
<text x="268.5" y="459.7" font-size="11.8" text-anchor="middle">G1</text>
<text x="313.2" y="459.7" font-size="11.8" text-anchor="middle">S/G2/M</text>
<text x="378.2" y="459.7" font-size="11.8" text-anchor="middle">G0</text>
<text x="421.5" y="459.7" font-size="11.8" text-anchor="middle">G1</text>
<text x="466.2" y="459.7" font-size="11.8" text-anchor="middle">S/G2/M</text>
<path d="M58.700 467.300H172" stroke="#111" stroke-width="1.3"/>
<path d="M217.500 467.500H330.700" stroke="#111" stroke-width="1.700"/>
<path d="M370.700 467.500H483.700" stroke="#111" stroke-width="1.3"/>
<text x="99" y="487.4" font-size="13.5" text-anchor="start">c-Kit<tspan dy="-3.2" font-size="8.2">+</tspan><tspan dy="3.2" font-size="1">&#8203;</tspan></text>
<text x="240" y="487.3" font-size="13.8" text-anchor="start">KSL CD48<tspan dy="-3.2" font-size="8.2">+</tspan><tspan dy="3.2" font-size="1">&#8203;</tspan></text>
<text x="368.5" y="487.3" font-size="13.6" text-anchor="start">KSL CD48<tspan dy="-2.6" font-size="15">-</tspan><tspan dy="2.6" font-size="1">&#8203;</tspan>CD150<tspan dy="-3.2" font-size="8.2">+</tspan><tspan dy="3.2" font-size="1">&#8203;</tspan></text>
<rect x="414" y="326" width="7" height="7" fill="#fff" stroke="#000" stroke-width="1"/>
<rect x="414" y="346" width="7" height="7" fill="#000" stroke="#000" stroke-width="1"/>
<text x="428" y="333" font-size="11.8" text-anchor="start">MigR1</text>
<text x="428" y="353.3" font-size="11.8" text-anchor="start">RUNX1(41-214)</text>
</svg>
</body></html>
